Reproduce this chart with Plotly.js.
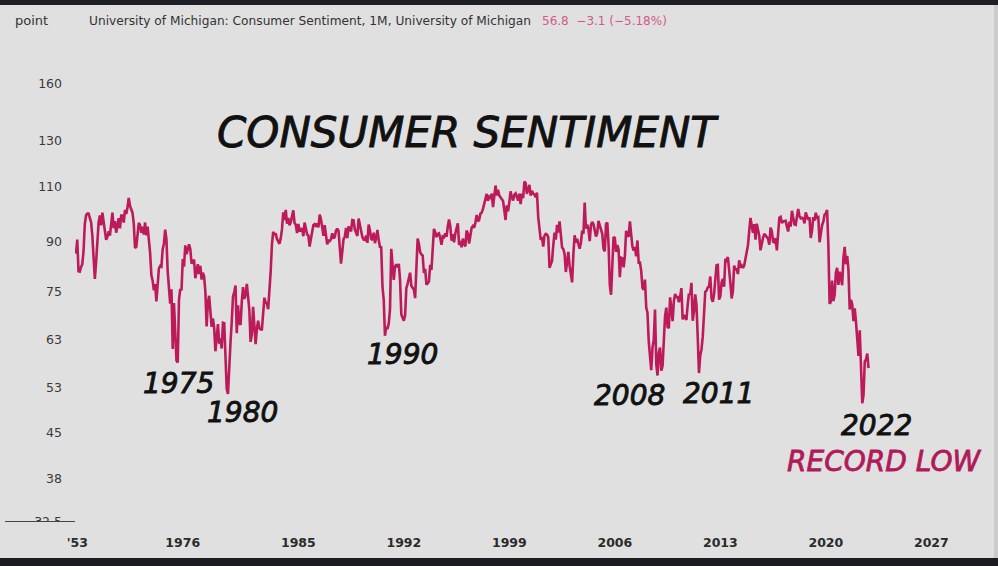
<!DOCTYPE html>
<html>
<head>
<meta charset="utf-8">
<script src="https://cdn.plot.ly/plotly-3.0.1.min.js"></script>
<style>
  html, body { margin: 0; padding: 0; background: #e0e0e0; }
  #chart { width: 998px; height: 566px; }
  text.annotation-text[style*="rgb(17, 17, 17)"] { stroke: #111111; stroke-width: 0.9px; }
  text.annotation-text[style*="rgb(176, 26, 90)"] { stroke: #b01a5a; stroke-width: 0.8px; }
</style>
</head>
<body>
<div id="chart"></div>
<script>
// ---------------- DATA ----------------
// Early irregular readings (1952-1959)
const earlyDates = ["1952-11","1953-02","1953-08","1953-11","1954-02","1954-05","1954-11",
  "1955-02","1955-05","1955-08","1955-11","1956-02","1956-06","1957-02","1957-08",
  "1958-02","1958-06","1958-11","1959-02","1959-06","1959-11"];
const earlyValues = [86.2, 90.7, 80.8, 80.7, 82.0, 82.9, 87.0,
  95.9, 99.1, 99.7, 99.7, 98.4, 96.6, 92.0, 86.5,
  78.6, 83.5, 92.0, 96.5, 99.0, 95.5];

// Quarterly readings 1960-1977 (Feb, May, Aug, Nov)
const quarterlyStartYear = 1960;
const quarterlyValues = [
  100.0, 96.5, 94.0, 90.6,   // 1960
  91.6, 93.5, 92.0, 96.0,    // 1961
  100.0, 94.5, 97.0, 93.0,   // 1962
  95.5, 98.0, 94.5, 99.0,    // 1963
  99.0, 96.5, 101.0, 99.5,   // 1964
  102.0, 105.5, 102.5, 101.5,// 1965
  100.0, 96.0, 88.0, 88.3,   // 1966
  92.2, 96.4, 95.5, 93.0,    // 1967
  95.0, 92.4, 96.5, 92.1,    // 1968
  95.1, 91.6, 86.4, 79.7,    // 1969
  78.1, 75.4, 77.1, 72.4,    // 1970
  78.2, 81.6, 82.4, 82.2,    // 1971
  87.5, 89.3, 94.0, 90.8,    // 1972
  80.8, 76.0, 71.8, 75.7,    // 1973
  60.9, 72.0, 64.5, 58.4,    // 1974
  58.0, 72.9, 75.8, 75.4,    // 1975
  84.5, 82.2, 88.8, 86.0,    // 1976
  87.5, 89.1, 87.6, 83.1     // 1977
];

// Monthly readings from Jan 1978
const monthlyStart = "1978-01";
const sent1978_1989 = [
  83.7, 84.3, 78.8, 81.6, 82.9, 80.0, 82.4, 78.4, 80.4, 79.3, 75.0, 66.1,
  72.1, 73.9, 68.4, 66.0, 68.1, 65.8, 60.4, 64.5, 66.7, 62.1, 63.3, 61.0,
  67.0, 66.9, 56.5, 52.7, 51.7, 58.7, 62.3, 67.3, 73.7, 75.0, 76.7, 64.5,
  71.4, 66.9, 66.5, 72.4, 76.3, 73.1, 74.1, 77.2, 73.1, 70.3, 62.5, 64.3,
  71.0, 66.5, 62.0, 65.5, 67.5, 65.7, 65.4, 65.4, 69.3, 73.4, 72.1, 71.9,
  70.4, 74.6, 80.8, 89.1, 93.3, 92.2, 92.8, 90.9, 89.9, 89.3, 91.1, 94.2,
  100.1, 97.4, 101.0, 96.1, 98.1, 95.5, 96.6, 99.1, 100.9, 96.3, 95.7, 92.9,
  96.0, 93.7, 93.7, 94.6, 91.8, 96.5, 94.0, 92.4, 92.1, 88.4, 90.9, 93.9,
  95.6, 95.9, 95.1, 96.2, 94.8, 99.3, 97.7, 94.9, 91.9, 95.6, 91.4, 89.1,
  90.4, 90.2, 90.8, 92.8, 91.1, 91.5, 93.7, 94.4, 93.6, 89.3, 83.1, 86.8,
  90.8, 91.6, 94.6, 91.2, 94.8, 94.7, 93.4, 97.4, 97.3, 94.1, 93.0, 91.9,
  97.9, 95.4, 94.3, 91.5, 90.7, 90.6, 92.0, 89.6, 95.8, 93.9, 90.9, 90.5
];
const sent1990_1999 = [
  93.0, 89.5, 91.3, 93.9, 90.6, 88.3, 88.2, 76.4, 72.8, 63.9, 66.0, 65.5,
  66.8, 70.4, 87.7, 81.8, 78.3, 82.1, 82.9, 82.0, 83.0, 78.3, 69.1, 68.2,
  67.5, 68.8, 76.0, 77.2, 79.2, 80.4, 76.6, 76.1, 75.6, 73.3, 85.3, 91.0,
  89.3, 86.6, 85.9, 85.6, 80.3, 81.5, 77.0, 77.3, 77.9, 82.7, 81.2, 88.2,
  94.3, 93.2, 91.5, 92.6, 92.8, 91.2, 89.0, 91.7, 91.5, 92.7, 91.6, 95.1,
  97.6, 95.1, 90.3, 92.5, 89.8, 92.7, 94.4, 96.2, 88.9, 90.2, 88.2, 91.0,
  89.3, 88.5, 93.7, 92.7, 89.4, 92.4, 94.7, 95.3, 94.7, 96.5, 99.2, 96.9,
  97.4, 99.7, 100.0, 101.4, 103.2, 104.5, 107.1, 104.4, 106.0, 105.6, 107.2, 102.1,
  106.6, 110.4, 106.5, 108.7, 106.5, 105.6, 105.2, 104.4, 100.9, 97.4, 102.7, 100.5,
  103.9, 108.1, 105.7, 104.6, 106.8, 107.3, 106.0, 104.5, 107.2, 103.2, 107.2, 105.4
];
const sent2000_2009 = [
  112.0, 111.3, 107.1, 109.2, 110.7, 106.4, 108.3, 107.3, 106.8, 105.8, 107.6, 98.4,
  94.7, 90.6, 91.5, 88.4, 92.0, 92.6, 92.4, 91.5, 81.8, 82.7, 83.9, 88.8,
  93.0, 90.7, 95.7, 93.0, 96.9, 92.4, 88.1, 87.6, 86.1, 80.6, 84.2, 86.7,
  82.4, 79.9, 77.6, 86.0, 92.1, 89.7, 90.9, 89.3, 87.7, 89.6, 93.7, 92.6,
  103.8, 94.4, 95.8, 94.2, 90.2, 95.6, 96.7, 95.9, 94.2, 91.7, 92.8, 97.1,
  95.5, 94.1, 92.6, 87.7, 86.9, 96.0, 96.5, 89.1, 76.9, 74.2, 81.6, 91.5,
  91.2, 86.7, 88.9, 87.4, 79.1, 84.9, 84.7, 82.0, 85.4, 93.6, 92.1, 91.7,
  96.9, 91.3, 88.4, 87.1, 88.3, 85.3, 90.4, 83.4, 83.4, 80.9, 76.1, 75.5,
  78.4, 70.8, 69.5, 62.6, 59.8, 56.4, 61.2, 63.0, 70.3, 57.6, 55.3, 60.1,
  61.2, 56.3, 57.3, 65.1, 68.7, 70.8, 66.0, 65.7, 73.5, 70.6, 67.4, 72.5
];
const sent2010_2022 = [
  74.4, 73.6, 73.6, 72.2, 73.6, 76.0, 67.8, 68.9, 68.2, 67.7, 71.6, 74.5,
  74.2, 77.5, 67.5, 69.8, 74.3, 71.5, 63.7, 55.8, 59.5, 60.8, 63.7, 69.9,
  75.0, 75.3, 76.2, 76.4, 79.3, 73.2, 72.3, 74.3, 78.3, 82.6, 82.7, 72.9,
  73.8, 77.6, 78.6, 76.4, 84.5, 84.1, 85.1, 82.1, 77.5, 73.2, 75.1, 82.5,
  81.2, 81.6, 80.0, 84.1, 81.9, 82.5, 81.8, 82.5, 84.6, 86.9, 88.8, 93.6,
  98.1, 95.4, 93.0, 95.9, 90.7, 96.1, 93.1, 91.9, 87.2, 90.0, 91.3, 92.6,
  92.0, 91.7, 91.0, 89.0, 94.7, 93.5, 90.0, 89.8, 91.2, 87.2, 93.8, 98.2,
  98.5, 96.3, 96.9, 97.0, 97.1, 95.0, 93.4, 96.8, 95.1, 100.7, 98.5, 95.9,
  95.7, 99.7, 101.4, 98.8, 98.0, 98.2, 97.9, 96.2, 100.1, 98.6, 97.5, 98.3,
  91.2, 93.8, 98.4, 97.2, 100.0, 98.2, 98.4, 89.8, 93.2, 95.5, 96.8, 99.3,
  99.8, 101.0, 89.1, 71.8, 72.3, 78.1, 72.5, 74.1, 80.4, 81.8, 76.9, 80.7,
  79.0, 76.8, 84.9, 88.3, 82.9, 85.5, 81.2, 70.3, 72.8, 71.7, 67.4, 70.6,
  67.2, 62.8, 59.4, 65.2, 58.4, 50.0, 51.5, 58.2, 58.6, 59.9, 56.8
];

// Axis labels
const xTickYears  = [1953, 1976, 1985, 1992, 1999, 2006, 2013, 2020, 2027];
const xTickLabels = ["'53", "1976", "1985", "1992", "1999", "2006", "2013", "2020", "2027"];
const yTickValues = [32.5, 38, 45, 53, 63, 75, 90, 110, 130, 160];

const headerUnit = "point";
const headerTitle = "University of Michigan: Consumer Sentiment, 1M, University of Michigan";
const headerValue = "56.8  −3.1 (−5.18%)";
const chartTitle = "CONSUMER SENTIMENT";
const callouts = ["1975", "1980", "1990", "2008", "2011", "2022"];
const recordLabel = "RECORD LOW";

// ---------------- BUILD SERIES (bar-indexed time axis, like TradingView) ----------------
const pad = n => (n < 10 ? "0" : "") + n;
const dates = earlyDates.slice();
const values = earlyValues.slice();
quarterlyValues.forEach((v, i) => {
  const y = quarterlyStartYear + Math.floor(i / 4);
  const m = [2, 5, 8, 11][i % 4];
  dates.push(y + "-" + pad(m));
  values.push(v);
});
const monthly = sent1978_1989.concat(sent1990_1999, sent2000_2009, sent2010_2022);
const [msY, msM] = monthlyStart.split("-").map(Number);
monthly.forEach((v, i) => {
  const t = (msY * 12 + msM - 1) + i;
  dates.push(Math.floor(t / 12) + "-" + pad(t % 12 + 1));
  values.push(v);
});
const barIdx = dates.map((d, i) => i);

function monthsOf(d) { const [y, m] = d.split("-").map(Number); return y * 12 + m - 1; }
function barIndexOfYear(year) {
  const i = dates.findIndex(d => Number(d.slice(0, 4)) >= year);
  if (i >= 0) return i;
  const last = dates.length - 1;
  return last + (year * 12) - monthsOf(dates[last]);
}
const xTickVals = xTickYears.map(barIndexOfYear);

// ---------------- LAYOUT HELPERS ----------------
const W = 998, H = 566;
const M = { l: 75, r: 5, t: 8, b: 44 };
const PW = W - M.l - M.r, PH = H - M.t - M.b;
const px = x => (x - M.l) / PW;
const py = y => (H - M.b - y) / PH;

const BG = "#e0e0e0";
const LINE = "#bd1a5c";
const FONT = "DejaVu Sans, Verdana, sans-serif";

const trace = {
  x: barIdx, y: values, customdata: dates,
  type: "scatter", mode: "lines",
  line: { color: LINE, width: 2.6 },
  hovertemplate: "%{customdata}: %{y}<extra></extra>"
};

const italicBig = (text, cx, cy, size, color) => ({
  text, x: px(cx), y: py(cy), xref: "paper", yref: "paper",
  xanchor: "center", yanchor: "middle", showarrow: false,
  font: { family: FONT, size, color, style: "italic" }
});

const annotations = [
  { text: headerUnit, x: px(13), y: py(20), xref: "paper", yref: "paper", xanchor: "left", yanchor: "middle",
    showarrow: false, font: { family: FONT, size: 13, color: "#333" } },
  { text: headerTitle, x: px(87), y: py(21), xref: "paper", yref: "paper", xanchor: "left", yanchor: "middle",
    showarrow: false, font: { family: FONT, size: 12.2, color: "#333" } },
  { text: headerValue, x: px(540), y: py(21), xref: "paper", yref: "paper", xanchor: "left", yanchor: "middle",
    showarrow: false, font: { family: FONT, size: 12, color: "#d4588a" } },
  italicBig(chartTitle, 468, 132, 42, "#111111"),
  italicBig(callouts[0], 178, 383, 28, "#111111"),
  italicBig(callouts[1], 242, 412, 28, "#111111"),
  italicBig(callouts[2], 402, 354, 28, "#111111"),
  italicBig(callouts[3], 629, 395, 28, "#111111"),
  italicBig(callouts[4], 718, 393, 28, "#111111"),
  italicBig(callouts[5], 876, 425, 28, "#111111"),
  italicBig(recordLabel, 884, 461, 28, "#b01a5a")
];

const shapes = [
  // cover lower half of clipped 32.5 label
  { type: "rect", xref: "paper", yref: "paper", x0: px(0), x1: px(74), y0: py(531), y1: py(522),
    fillcolor: BG, line: { width: 0 }, layer: "above" },
  { type: "line", xref: "paper", yref: "paper", x0: px(5), x1: px(75), y0: py(521.5), y1: py(521.5),
    line: { color: "#444", width: 1 }, layer: "above" },
  // screen bezel bands
  { type: "rect", xref: "paper", yref: "paper", x0: px(0), x1: px(998), y0: py(5), y1: py(-2),
    fillcolor: "#1d1f28", line: { width: 0 }, layer: "above" },
  { type: "rect", xref: "paper", yref: "paper", x0: px(0), x1: px(998), y0: py(568), y1: py(558),
    fillcolor: "#1b1b20", line: { width: 0 }, layer: "above" },
  { type: "rect", xref: "paper", yref: "paper", x0: px(994), x1: px(999), y0: py(558), y1: py(5),
    fillcolor: "#cbcbcb", line: { width: 0 }, layer: "above" }
];

const layout = {
  width: W, height: H,
  margin: M,
  paper_bgcolor: BG, plot_bgcolor: BG,
  showlegend: false,
  xaxis: {
    range: [-0.8, -0.8 + PW / 1.256],
    tickmode: "array", tickvals: xTickVals, ticktext: xTickLabels,
    showgrid: false, zeroline: false, showline: false, ticks: "",
    ticklabelstandoff: 11,
    tickfont: { family: FONT, size: 12.5, color: "#2b2b2b", weight: "bold" },
    fixedrange: true
  },
  yaxis: {
    type: "log",
    range: [Math.log10(32.45), Math.log10(32.45) + PH / 274.8 / Math.LN10],
    tickmode: "array", tickvals: yTickValues, ticktext: yTickValues.map(String),
    showgrid: false, zeroline: false, showline: false, ticks: "",
    ticklabelstandoff: 12,
    tickfont: { family: FONT, size: 12.5, color: "#3a3a3a" },
    fixedrange: true
  },
  annotations, shapes
};

Plotly.newPlot("chart", [trace], layout, { displayModeBar: false, staticPlot: true });
</script>
</body>
</html>
